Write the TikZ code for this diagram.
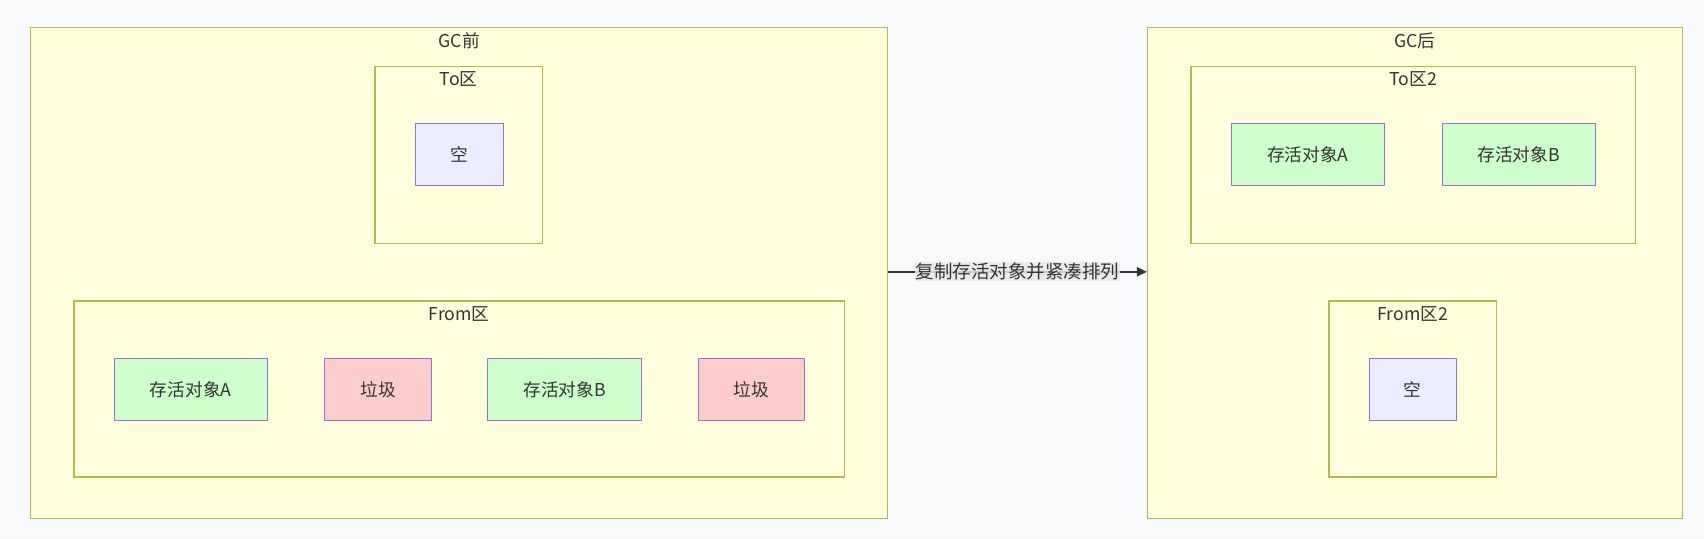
\documentclass[tikz,border=0pt]{standalone}
\usepackage{fontspec}
\setmainfont{Noto Sans CJK SC}
\usetikzlibrary{arrows.meta}
\definecolor{pagebg}{HTML}{F8F9FA}
\definecolor{clfill}{HTML}{FFFFDE}
\definecolor{clline}{HTML}{B8B848}
\definecolor{ndline}{HTML}{9370DB}
\definecolor{ndfill}{HTML}{ECECFF}
\definecolor{livefill}{HTML}{CCFFCC}
\definecolor{junkfill}{HTML}{FFCCCC}
\definecolor{txt}{HTML}{333333}
\definecolor{lblbg}{HTML}{E8E8E8}
\tikzset{
  cluster/.style={draw=clline, fill=clfill, line width=1.3pt, inner sep=0pt},
  box/.style={draw=ndline, line width=1pt, inner sep=0pt, minimum height=61.9pt, text=txt, font=\fontsize{17.7}{20}\selectfont},
  emptybox/.style={box, fill=ndfill},
  livebox/.style={box, fill=livefill},
  junkbox/.style={box, fill=junkfill},
  ttl/.style={text=txt, font=\fontsize{17.7}{20}\selectfont, inner sep=0pt},
  edgelbl/.style={fill=lblbg, fill opacity=0.85, text opacity=1, text=txt, font=\fontsize{18.5}{22}\selectfont, inner sep=1pt},
  conn/.style={draw=txt, line width=1.5pt, -{Triangle[length=10pt,width=9pt]}}
}
\begin{document}
\begin{tikzpicture}[x=1pt,y=-1pt]
\fill[pagebg] (0,0) rectangle (1704,538);
\useasboundingbox (0,0) rectangle (1704,538);
% GC before
\node[cluster, minimum width=857.4pt, minimum height=491.2pt] (gcb) at (459.1,272.8) {};
\node[ttl] (gcbt) at ([yshift=-14pt]gcb.north) {GC前};
\node[cluster, minimum width=167.4pt, minimum height=177.1pt] (tob) at (458.6,154.85) {};
\node[ttl] (tobt) at ([yshift=-13.5pt]tob.north) {To区};
\node[emptybox, minimum width=88pt] (emb) at (459.1,154.85) {空};
\node[cluster, minimum width=770.5pt, minimum height=176pt] (frb) at (459.15,389) {};
\node[ttl] (frbt) at ([yshift=-14pt]frb.north) {From区};
\node[livebox, minimum width=153.2pt] (la) at (190.7,389.55) {存活对象A};
\node[junkbox, minimum width=106.5pt] (j1) at (378.15,389.55) {垃圾};
\node[livebox, minimum width=153.3pt] (lb) at (564.55,389.55) {存活对象B};
\node[junkbox, minimum width=105.5pt] (j2) at (751.45,389.55) {垃圾};
% GC after
\node[cluster, minimum width=534.6pt, minimum height=491.2pt] (gca) at (1414.9,272.8) {};
\node[ttl] (gcat) at ([yshift=-14pt]gca.north) {GC后};
\node[cluster, minimum width=444.5pt, minimum height=177.1pt] (toa) at (1413.25,154.85) {};
\node[ttl] (toat) at ([yshift=-13.5pt]toa.north) {To区2};
\node[livebox, minimum width=153.3pt] (la2) at (1307.85,154.85) {存活对象A};
\node[livebox, minimum width=153.2pt] (lb2) at (1518.6,154.85) {存活对象B};
\node[cluster, minimum width=167.4pt, minimum height=176pt] (fra) at (1412.7,389) {};
\node[ttl] (frat) at ([yshift=-14pt]fra.north) {From区2};
\node[emptybox, minimum width=87pt] (ema) at (1412.7,389.55) {空};
% connector
\draw[conn] ([yshift=1pt]gcb.east) -- node[edgelbl] (lbl) {复制存活对象并紧凑排列} ([yshift=1pt]gca.west);
\end{tikzpicture}
\end{document}
